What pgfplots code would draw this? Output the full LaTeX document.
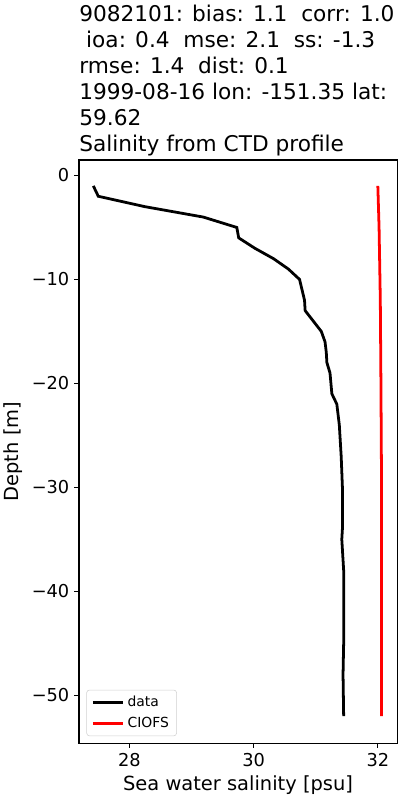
\documentclass[border=0pt]{standalone}
\usepackage{pgfplots}
\pgfplotsset{compat=1.18}
\usepackage{fontspec}
\setmainfont{DejaVu Sans}

\begin{document}
\begin{tikzpicture}
\useasboundingbox (0,0) rectangle (288bp,576bp);

% multi-line title, left aligned on the axis
\begin{scope}[every node/.style={anchor=base west, inner sep=0pt, font=\fontsize{15.6bp}{18.8bp}\selectfont}]
\node at (56.9bp,560.4bp) {9082101: bias: 1.1\ \ corr: 1.0};
\node at (56.9bp,541.6bp) {\ ioa: 0.4\ \ mse: 2.1\ \ ss: -1.3};
\node at (56.9bp,522.9bp) {rmse: 1.4\ \ dist: 0.1};
\node at (56.9bp,504.1bp) {1999-08-16 lon: -151.35 lat:};
\node at (56.9bp,485.3bp) {59.62};
\node at (56.9bp,466.6bp) {Salinity from CTD profile};
\end{scope}

\begin{axis}[
    at={(56.9bp,41bp)},
    anchor=south west,
    scale only axis,
    width=229bp,
    height=419.8bp,
    xmin=27.19, xmax=32.31,
    ymin=-54.6, ymax=1.49,
    xtick={28,30,32},
    ytick={-50,-40,-30,-20,-10,0},
    yticklabels={−50,−40,−30,−20,−10,0},
    tick pos=left,
    tick align=outside,
    major tick length=3.5bp,
    minor tick num=0,
    axis line style={line width=0.8bp},
    every tick/.style={line width=0.8bp, black},
    tick label style={font=\fontsize{12.8bp}{15.4bp}\selectfont},
    label style={font=\fontsize{14bp}{16.8bp}\selectfont},
    /pgf/number format/assume math mode=true,
    xlabel={Sea water salinity [psu]},
    ylabel={Depth [m]},
    legend style={
        at={(0,0)}, anchor=south west, xshift=5.3bp, yshift=5bp,
        draw=black!18, rounded corners=2bp, fill=white, fill opacity=0.8,
        text opacity=1,
        font=\fontsize{10bp}{12bp}\selectfont,
        inner xsep=3.5bp, inner ysep=2.5bp,
        row sep=2bp,
        cells={anchor=west},
    },
    legend image code/.code={\draw[#1] (0bp,0bp) -- (22bp,0bp);},
]

% CTD observations
\addplot[black, line width=2bp] coordinates {
(27.42,-1) (27.50,-2) (28.25,-3) (29.19,-4) (29.73,-5) (29.76,-6)
(30.02,-7) (30.32,-8) (30.56,-9) (30.74,-10) (30.78,-11) (30.82,-12)
(30.83,-13) (30.96,-14) (31.09,-15) (31.15,-16) (31.17,-17) (31.18,-18)
(31.23,-19) (31.26,-21) (31.34,-22) (31.38,-24) (31.41,-27) (31.43,-30)
(31.43,-34) (31.42,-35) (31.45,-38) (31.45,-45) (31.44,-48) (31.45,-52)
};

% CIOFS model
\addplot[red, line width=2bp] coordinates {
(32.00,-1) (32.02,-5) (32.04,-12) (32.05,-20) (32.06,-30) (32.06,-52)
};

\legend{data, CIOFS}
\end{axis}
\end{tikzpicture}
\end{document}
